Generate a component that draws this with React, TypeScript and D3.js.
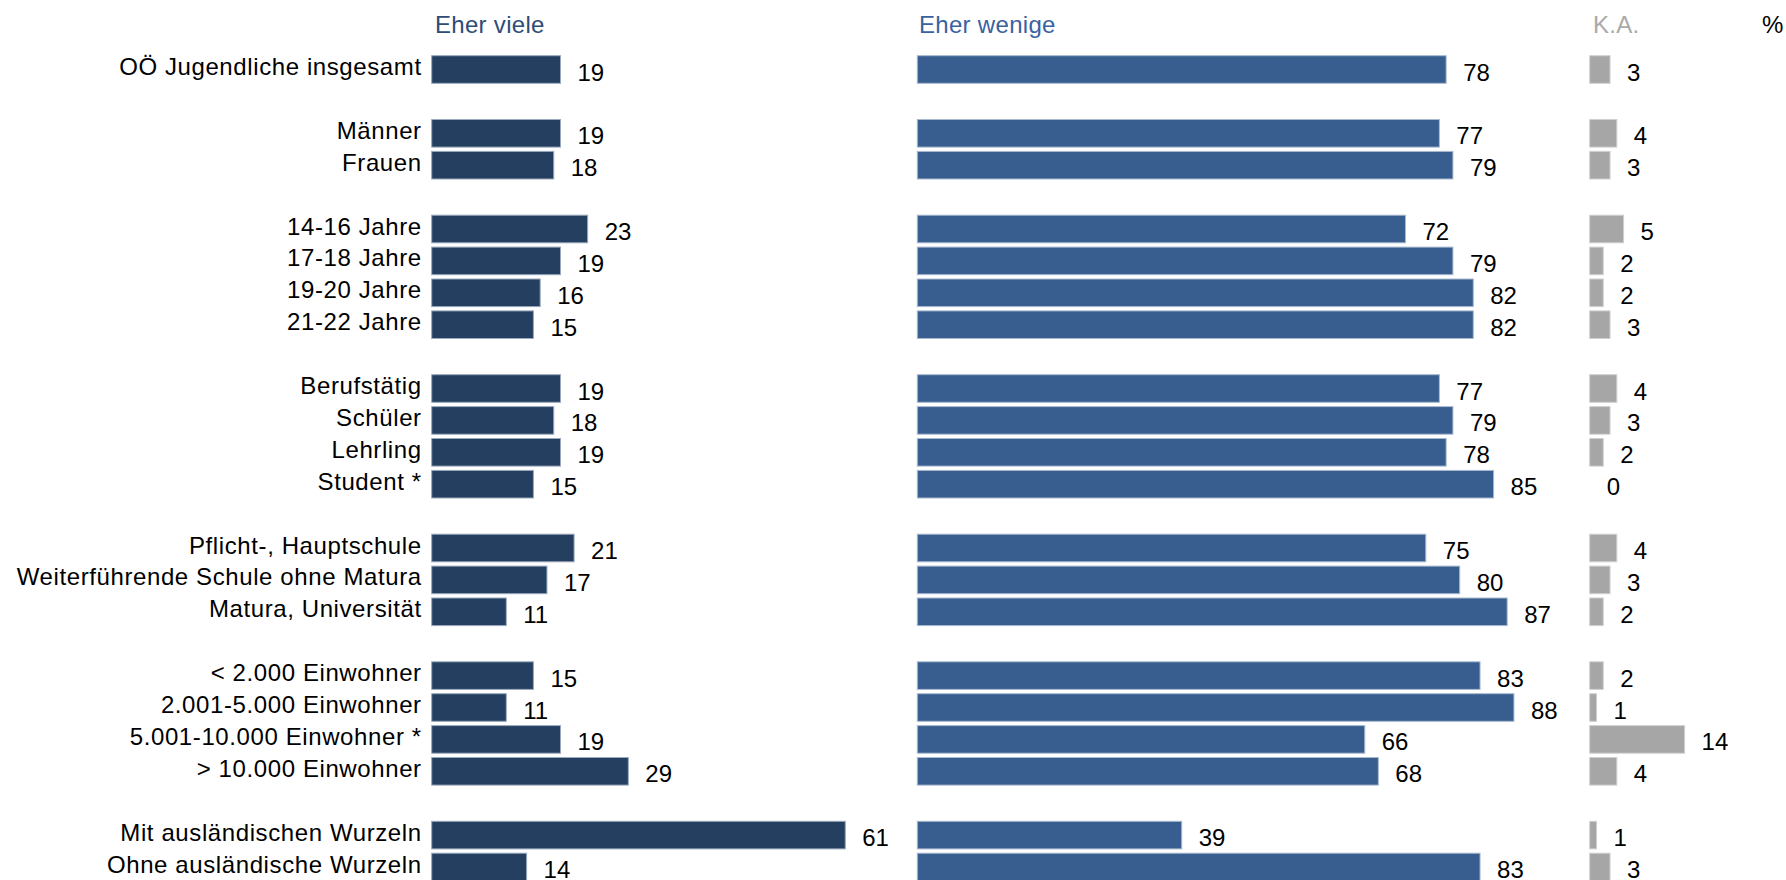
import React from "react";
import * as d3 from "d3";

const categories = [
  "OÖ Jugendliche insgesamt",
  "Männer",
  "Frauen",
  "14-16 Jahre",
  "17-18 Jahre",
  "19-20 Jahre",
  "21-22 Jahre",
  "Berufstätig",
  "Schüler",
  "Lehrling",
  "Student *",
  "Pflicht-, Hauptschule",
  "Weiterführende Schule ohne Matura",
  "Matura, Universität",
  "< 2.000 Einwohner",
  "2.001-5.000 Einwohner",
  "5.001-10.000 Einwohner *",
  "> 10.000 Einwohner",
  "Mit ausländischen Wurzeln",
  "Ohne ausländische Wurzeln",
];

// group sizes (a blank row separates groups)
const groupSizes = [1, 2, 4, 4, 3, 4, 2];

const eherViele = [19, 19, 18, 23, 19, 16, 15, 19, 18, 19, 15, 21, 17, 11, 15, 11, 19, 29, 61, 14];
const eherWenige = [78, 77, 79, 72, 79, 82, 82, 77, 79, 78, 85, 75, 80, 87, 83, 88, 66, 68, 39, 83];
const keineAngabe = [3, 4, 3, 5, 2, 2, 3, 4, 3, 2, 0, 4, 3, 2, 2, 1, 14, 4, 1, 3];

const headers = ["Eher viele", "Eher wenige", "K.A.", "%"];

const W = 1786;
const H = 880;
const FONT = "'Liberation Sans', Arial, Helvetica, sans-serif";

export default function App() {
  const slots: number[] = [];
  let s = 0;
  groupSizes.forEach((g) => {
    for (let i = 0; i < g; i++) slots.push(s++);
    s++;
  });

  const y = d3.scaleLinear().domain([0, 25]).range([55.7, 55.7 + 25 * 31.9]);
  const barH = 27.6;
  const x = d3.scaleLinear().domain([0, 100]).range([0, 678]);

  const cols = [
    { x0: 431.7, values: eherViele, fill: "#243f5f", stroke: "#9aa9bd" },
    { x0: 917.3, values: eherWenige, fill: "#375e8f", stroke: "#a9bad0" },
    { x0: 1589.7, values: keineAngabe, fill: "#a6a6a6", stroke: "#d0d0d0" },
  ];

  const fs = 24;
  const ls = 0.6;

  return (
    <svg
      width={W}
      height={H}
      style={{ position: "fixed", left: 0, top: 0, background: "#fff" }}
      fontFamily={FONT}
    >
      <rect x={0} y={0} width={W} height={H} fill="#fff" />
      <text x={435} y={33} fontSize={fs} letterSpacing={0.3} fill="#2d4c76">
        {headers[0]}
      </text>
      <text x={919} y={33} fontSize={fs} letterSpacing={0.3} fill="#3a62a0">
        {headers[1]}
      </text>
      <text x={1593} y={33} fontSize={fs} letterSpacing={0.3} fill="#aaaaaa">
        {headers[2]}
      </text>
      <text x={1762} y={33} fontSize={fs} fill="#000">
        {headers[3]}
      </text>

      {categories.map((c, i) => {
        const yt = y(slots[i]);
        const cy = yt + barH / 2;
        return (
          <g key={c}>
            <text
              x={421.7}
              y={cy + 5.5}
              fontSize={fs}
              letterSpacing={ls}
              textAnchor="end"
              fill="#000"
            >
              {c}
            </text>
            {cols.map((col, k) => {
              const v = col.values[i];
              const w = x(v);
              return (
                <g key={k}>
                  {v > 0 && (
                    <rect
                      x={col.x0}
                      y={yt}
                      width={w}
                      height={barH}
                      fill={col.fill}
                      stroke={col.stroke}
                      strokeWidth={1}
                    />
                  )}
                  <text
                    x={col.x0 + w + 17}
                    y={cy + 11}
                    fontSize={fs}
                    fill="#000"
                  >
                    {v}
                  </text>
                </g>
              );
            })}
          </g>
        );
      })}
    </svg>
  );
}
